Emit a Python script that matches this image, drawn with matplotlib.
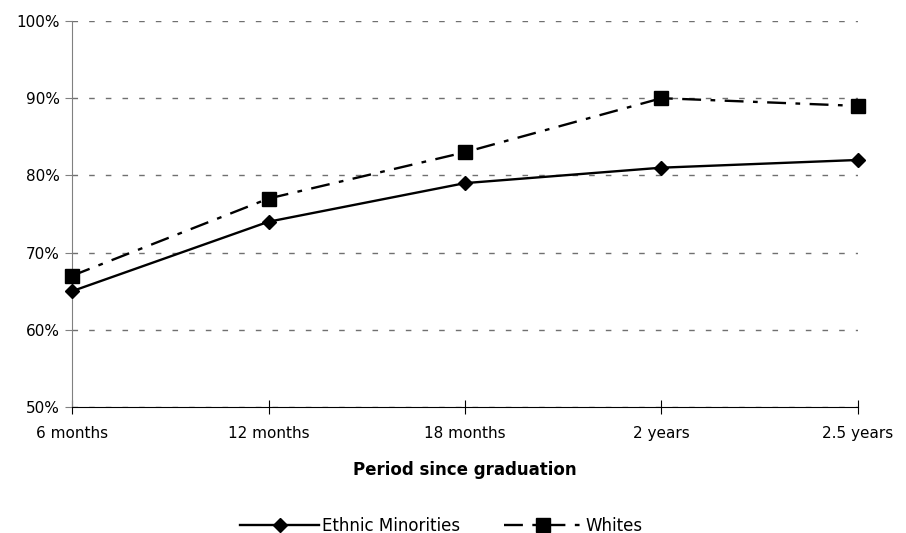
import matplotlib
matplotlib.use("Agg")
import matplotlib.pyplot as plt
from matplotlib.ticker import FuncFormatter

periods = ["6 months", "12 months", "18 months", "2 years", "2.5 years"]
ethnic_minorities = [65, 74, 79, 81, 82]
whites = [67, 77, 83, 90, 89]

plt.rcParams["font.family"] = ["DejaVu Sans"]

fig = plt.figure(figsize=(9.06, 5.33), dpi=100)
ax = fig.add_axes([0.0795, 0.2364, 0.8675, 0.7242])

x = list(range(len(periods)))
ax.plot(x, ethnic_minorities, color="black", lw=1.7, marker="D", markersize=7.5,
        label="Ethnic Minorities", clip_on=False, zorder=3)
ax.plot(x, whites, color="black", lw=1.7, marker="s", markersize=10,
        dashes=[8, 4, 2, 4], label="Whites", clip_on=False, zorder=3)

ax.set_xlim(0, 4)
ax.set_ylim(50, 100)
ax.set_yticks(range(50, 101, 10))
ax.yaxis.set_major_formatter(FuncFormatter(lambda v, p: f"{v:.0f}%"))
ax.set_xticks(x)
ax.set_xticklabels(periods)

ax.grid(axis="y", color="#707070", linestyle=(0, (4, 8)), lw=1)
ax.set_axisbelow(True)

for side in ("top", "right"):
    ax.spines[side].set_visible(False)
ax.spines["left"].set_color("#808080")
ax.spines["bottom"].set_color("black")

ax.tick_params(axis="x", direction="inout", length=10, color="black",
               labelsize=11, pad=9)
ax.tick_params(axis="y", direction="out", length=5, color="#808080",
               labelsize=11, pad=4)

ax.set_xlabel("Period since graduation", fontsize=12, fontweight="bold",
              labelpad=14)

ax.legend(loc="upper center", bbox_to_anchor=(0.47, -0.245), ncol=2,
          frameon=False, fontsize=12, handlelength=4.7, columnspacing=2.6,
          handletextpad=0.2)

fig.savefig("out.png", dpi=100)
